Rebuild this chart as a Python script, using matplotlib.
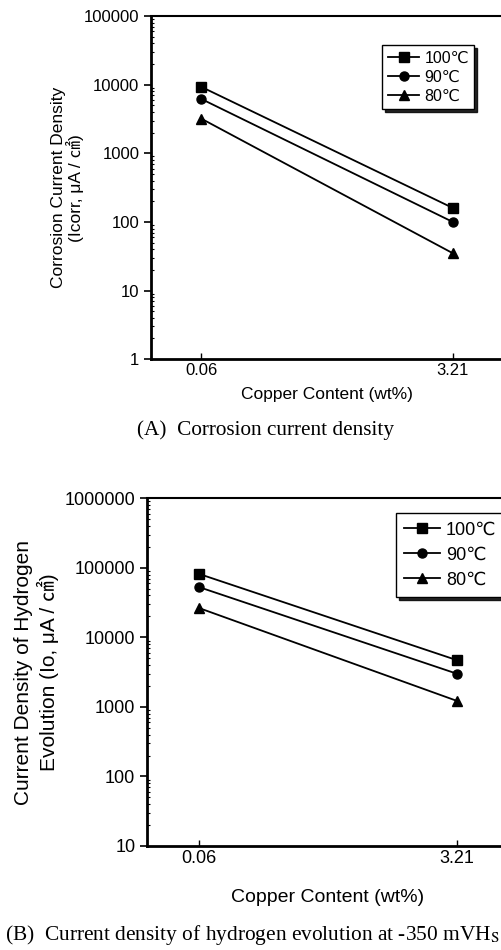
import matplotlib
matplotlib.use("Agg")
import matplotlib.pyplot as plt
from matplotlib.ticker import LogLocator, FixedLocator, NullFormatter

plt.rcParams["font.family"] = ["Liberation Sans", "DejaVu Sans", "Noto Sans CJK KR"]
plt.rcParams["mathtext.fontset"] = "stix"

# copper content categories
copper = ["0.06", "3.21"]
temps = ["100℃", "90℃", "80℃"]
markers = ["s", "o", "^"]

# corrosion current density (uA/cm2)
icorr_100 = [9300, 160]
icorr_90 = [6200, 100]
icorr_80 = [3200, 35]

# hydrogen evolution current density (uA/cm2)
io_100 = [82000, 4700]
io_90 = [53000, 3000]
io_80 = [26500, 1220]

xpos = [1, 2]


def style_axis(ax, ylim, fs):
    ax.set_yscale("log")
    ax.set_ylim(*ylim)
    ax.set_xlim(0.8, 2.2)
    ax.xaxis.set_major_locator(FixedLocator(xpos))
    ax.set_xticklabels(copper)
    ax.yaxis.set_major_locator(LogLocator(base=10))
    ax.yaxis.set_major_formatter(plt.FuncFormatter(lambda v, p: f"{v:.0f}"))
    ax.yaxis.set_minor_locator(LogLocator(base=10, subs=range(2, 10)))
    ax.yaxis.set_minor_formatter(NullFormatter())
    ax.tick_params(axis="y", which="major", direction="out", length=5, width=1.2, labelsize=fs)
    ax.tick_params(axis="y", which="minor", direction="in", length=2, width=0.8)
    ax.tick_params(axis="x", which="major", direction="in", length=4, width=1.0, labelsize=fs, pad=3)
    for side in ["left", "bottom"]:
        ax.spines[side].set_linewidth(2.0)
    ax.spines["top"].set_linewidth(1.5)
    ax.spines["right"].set_linewidth(1.5)


def plot_series(ax, series):
    for vals, lab, m in zip(series, temps, markers):
        ax.plot(xpos, vals, color="black", lw=1.3, marker=m, ms=6.5,
                markeredgecolor="black", markerfacecolor="black", label=lab)


fig = plt.figure(figsize=(5.02, 9.5), dpi=100)

# (A) corrosion current density
ax1 = fig.add_axes([0.301, 0.622, 0.701, 0.361])
plot_series(ax1, [icorr_100, icorr_90, icorr_80])
style_axis(ax1, (1, 1e5), 12)
ax1.set_xlabel("Copper Content (wt%)", fontsize=12.5, labelpad=6)
ax1.set_ylabel("Corrosion Current Density\n(Icorr, μA / ㎠)", fontsize=12.5,
               labelpad=0, linespacing=1.0)
leg1 = ax1.legend(loc="upper left", bbox_to_anchor=(0.656, 0.915), fontsize=11.5,
                  frameon=True, fancybox=False, shadow={"color": "black", "alpha": 0.85},
                  edgecolor="black", handlelength=2.0, handletextpad=0.3,
                  borderpad=0.35, labelspacing=0.25, borderaxespad=0)
leg1.get_frame().set_linewidth(1.0)
fig.text(0.528, 0.547, "(A)  Corrosion current density", ha="center", va="center",
         fontsize=15.3, family="Liberation Serif")

# (B) hydrogen evolution current density
ax2 = fig.add_axes([0.293, 0.1095, 0.720, 0.366])
plot_series(ax2, [io_100, io_90, io_80])
style_axis(ax2, (10, 1e6), 13)
ax2.set_xlabel("Copper Content (wt%)", fontsize=14, labelpad=16)
ax2.set_ylabel("Current Density of Hydrogen\nEvolution (Io, μA / ㎠)", fontsize=15,
               labelpad=4, linespacing=1.2)
leg2 = ax2.legend(loc="upper left", bbox_to_anchor=(0.689, 0.957), fontsize=13,
                  frameon=True, fancybox=False, shadow={"color": "black", "alpha": 0.85},
                  edgecolor="black", handlelength=2.0, handletextpad=0.3,
                  borderpad=0.45, labelspacing=0.45, borderaxespad=0)
leg2.get_frame().set_linewidth(1.0)
fig.text(0.01, 0.016, "(B)  Current density of hydrogen evolution at -350 mVH$_{\\rm S}$",
         ha="left", va="center", fontsize=15.4, family="Liberation Serif")

fig.savefig("out.png", dpi=100)
